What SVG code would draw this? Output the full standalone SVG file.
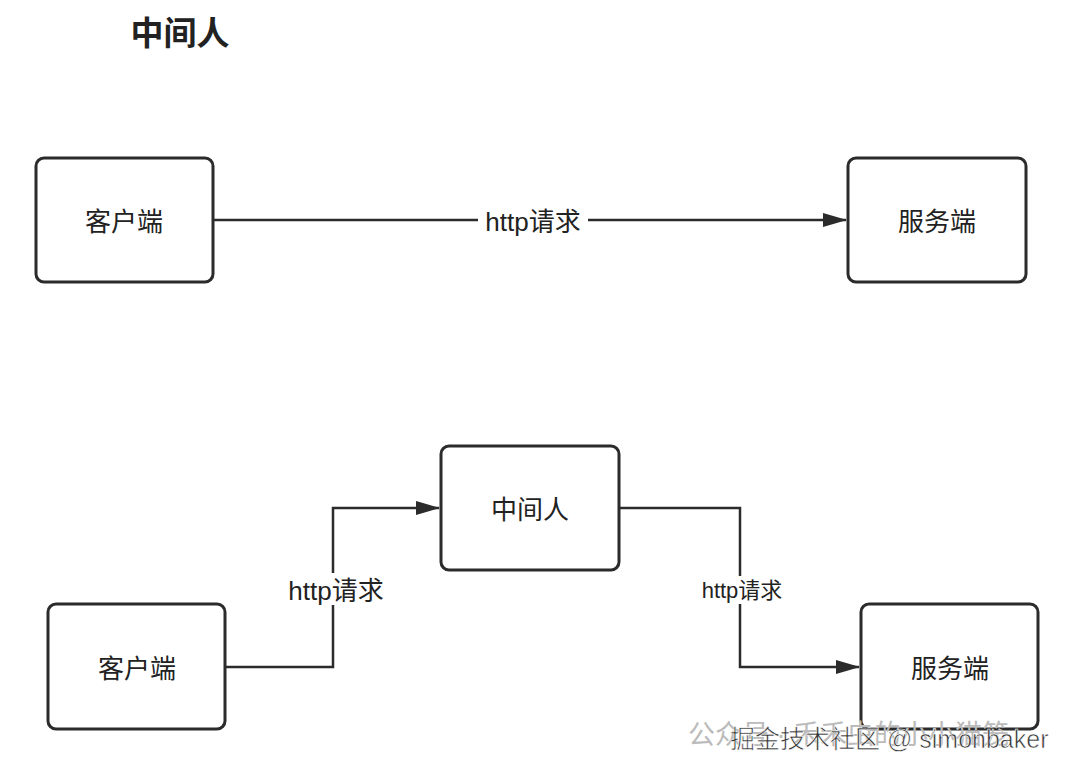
<svg xmlns="http://www.w3.org/2000/svg" width="1080" height="773" viewBox="0 0 1080 773">
<style>
.n{fill:#fff;stroke:#2b2b2b;stroke-width:3}
.t{font-family:"Liberation Sans","Noto Sans CJK SC",sans-serif;fill:#222;text-anchor:middle}
.c{fill:none;stroke:#2b2b2b;stroke-width:2.5}
</style>
<defs><marker id="a" markerWidth="24" markerHeight="14" refX="23" refY="7" orient="auto" markerUnits="userSpaceOnUse"><path d="M0,0L24,7L0,14Z" fill="#2b2b2b"/></marker></defs>
<rect width="1080" height="773" fill="#fff"/>
<text class="t" x="180" y="45" font-size="33" font-weight="bold">中间人</text>
<g id="connectors">
<path class="c" d="M213,220H846" marker-end="url(#a)"/>
<path class="c" d="M225,667H333V508H439" marker-end="url(#a)"/>
<path class="c" d="M619,508H740V667H859" marker-end="url(#a)"/>
<rect x="478" y="204" width="110" height="32" fill="#fff"/>
<text class="t" x="533" y="231" font-size="26">http请求</text>
<rect x="282" y="573" width="108" height="32" fill="#fff"/>
<text class="t" x="336" y="600" font-size="26">http请求</text>
<rect x="695" y="576" width="95" height="28" fill="#fff"/>
<text class="t" x="742" y="598" font-size="22">http请求</text>
</g>
<g id="client1"><rect class="n" x="36" y="158" width="177" height="124" rx="8"/><text class="t" x="124" y="231" font-size="26">客户端</text></g>
<g id="server1"><rect class="n" x="848" y="158" width="178" height="124" rx="8"/><text class="t" x="937" y="231" font-size="26">服务端</text></g>
<g id="mitm"><rect class="n" x="441" y="446" width="178" height="124" rx="8"/><text class="t" x="530" y="519" font-size="26">中间人</text></g>
<g id="client2"><rect class="n" x="48" y="604" width="177" height="125" rx="8"/><text class="t" x="137" y="678" font-size="26">客户端</text></g>
<g id="server2"><rect class="n" x="861" y="604" width="177" height="125" rx="8"/><text class="t" x="950" y="678" font-size="26">服务端</text></g>
<text x="688" y="744" font-size="27" fill="#bbb" font-family="Liberation Sans,Noto Sans CJK SC,sans-serif">公众号 · 禾禾虫的小小猫笼</text>
<text x="730" y="748" font-size="25" fill="#333" stroke="#fff" stroke-width="0.6" font-family="Liberation Sans,Noto Sans CJK SC,sans-serif">掘金技术社区 @ simonbaker</text>
</svg>
